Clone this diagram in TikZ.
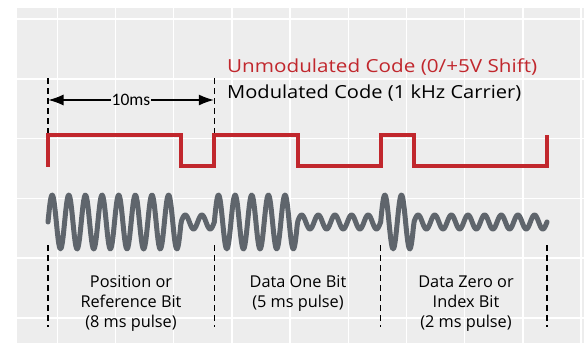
\documentclass[tikz,border=0pt]{standalone}
\usepackage{fontspec}
\setmainfont{Open Sans}
\newfontfamily\calib{Carlito}
\usetikzlibrary{arrows.meta}
\definecolor{bg}{HTML}{EDEDED}
\definecolor{sigred}{HTML}{C1272D}
\definecolor{wavegray}{HTML}{5F656C}
\tikzset{
  gridline/.style={draw=white, line width=1.5pt},
  redline/.style={draw=sigred, line width=4pt, line join=miter},
  carrier/.style={draw=wavegray, line width=5pt, line join=round, line cap=round},
  guide/.style={draw=black, line width=1.2pt, dash pattern=on 6pt off 4pt},
  dimarrow/.style={draw=black, line width=1.2pt, -{Latex[length=15pt,width=11pt]}},
  legend/.style={anchor=base west, inner sep=0pt, font=\fontsize{18}{22}\selectfont},
  bitlabel/.style={anchor=base, inner sep=0pt, align=center, font=\fontsize{16.3}{20}\selectfont},
}
\begin{document}
\begin{tikzpicture}[x=1pt,y=-1pt,
  declare function={amp(\t)=ifthenelse(\t<181.07,27,ifthenelse(\t<214.33,7,ifthenelse(\t<297.5,27,ifthenelse(\t<380.7,7,ifthenelse(\t<414,27,7)))));}]
\useasboundingbox (0,0) rectangle (584,343);
\fill[bg] (17,8) rectangle (584,343);
\foreach \i in {0,...,9} \draw[gridline] ({57.3+58.2*\i},8) -- ++(0,335);
\foreach \j in {0,...,5} \draw[gridline] (17,{19+59.8*\j}) -- (584,{19+59.8*\j});

% square wave
\draw[redline] (48,166.5) -- (48,135) -- (181.07,135) -- (181.07,165.5) -- (214.33,165.5) -- (214.33,135)
  -- (297.5,135) -- (297.5,165.5) -- (380.7,165.5) -- (380.7,135) -- (414,135) -- (414,165.5)
  -- (547,165.5) -- (547,135);

% carrier
\draw[carrier] plot[domain=48:547, samples=700] (\x,{222-amp(\x)*sin(21.6437*(\x-48))});

% guides
\coordinate (t1) at (48,78); \coordinate (t1b) at (48,133);
\coordinate (t2) at (214.33,78); \coordinate (t2b) at (214.33,133);
\draw[guide] (t1) -- (t1b);
\draw[guide] (t2) -- (t2b);
\foreach \gx [count=\k] in {48,214.33,380.7,547} {
  \coordinate (g\k a) at (\gx,245);
  \coordinate (g\k b) at (\gx,327);
  \draw[guide] (g\k a) -- (g\k b);
}

% dimension
\coordinate (da) at (48.5,100);
\coordinate (db) at (213.8,100);
\node[inner sep=1pt, font=\calib\fontsize{17.5}{20}\selectfont] (dim) at (131,100) {10ms};
\draw[dimarrow] (dim.west) -- (da);
\draw[dimarrow] (dim.east) -- (db);

% legend
\node[legend, text=sigred] (leg1) at (227,72) {\resizebox{310pt}{\height}{Unmodulated Code (0/+5V Shift)}};
\node[legend, text=black] (leg2) at (227,98.5) {\resizebox{294pt}{\height}{Modulated Code (1 kHz Carrier)}};

% labels
\node[bitlabel] (lab1) at (131,327) {Position or\\Reference Bit\\(8 ms pulse)};
\node[bitlabel] (lab2) at (298,307) {Data One Bit\\(5 ms pulse)};
\node[bitlabel] (lab3) at (466,327) {Data Zero or\\Index Bit\\(2 ms pulse)};
\end{tikzpicture}
\end{document}
